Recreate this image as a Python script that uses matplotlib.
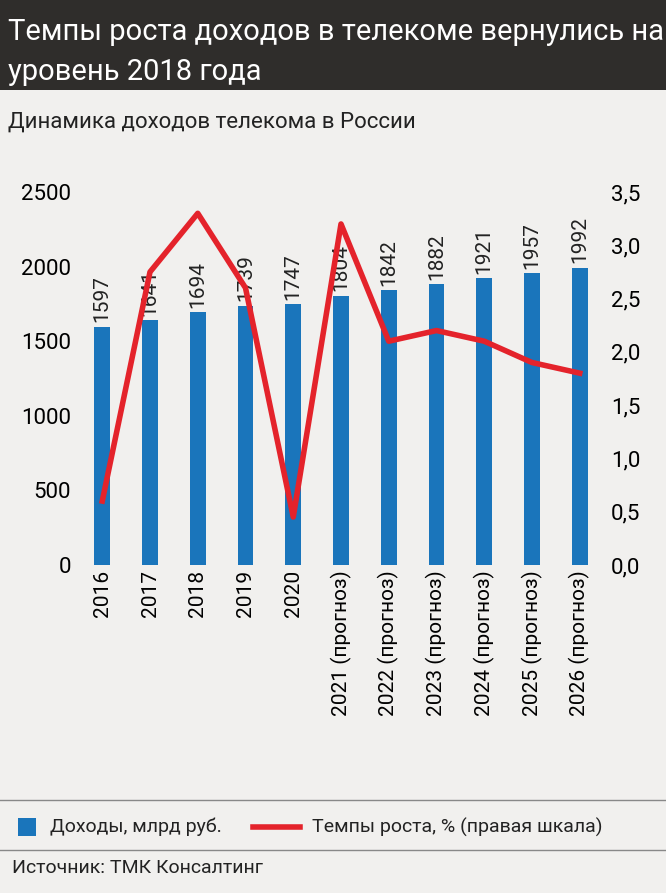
import matplotlib.pyplot as plt
import numpy as np

plt.rcParams['font.family'] = 'Roboto'

years = ['2016', '2017', '2018', '2019', '2020', '2021 (прогноз)', '2022 (прогноз)',
         '2023 (прогноз)', '2024 (прогноз)', '2025 (прогноз)', '2026 (прогноз)']
revenue = [1597, 1641, 1694, 1739, 1747, 1804, 1842, 1882, 1921, 1957, 1992]
growth = [0.6, 2.75, 3.3, 2.6, 0.45, 3.2, 2.1, 2.2, 2.1, 1.9, 1.8]

bg = '#f1f0ee'
fig = plt.figure(figsize=(6.66, 8.93), dpi=100, facecolor=bg)

# title band
fig.patches.append(plt.Rectangle((0, 1 - 90/893), 1, 90/893, transform=fig.transFigure,
                                 facecolor='#2f2d2b', zorder=0))
fig.text(0.012, 1 - 32/893, 'Темпы роста доходов в телекоме вернулись на', color='white',
         fontsize=21, va='center')
fig.text(0.012, 1 - 72/893, 'уровень 2018 года', color='white', fontsize=21, va='center')
fig.text(0.012, 1 - 122/893, 'Динамика доходов телекома в России', color='#222',
         fontsize=16, va='center')

ax = fig.add_axes([76/666, 1 - 565/893, 530/666, 373/893], facecolor=bg)
x = np.arange(len(years))
ax.bar(x, revenue, width=0.33, color='#1a75bb', zorder=2)
for xi, v in zip(x, revenue):
    ax.text(xi, v + 30, str(v), rotation=90, ha='center', va='bottom', fontsize=15, color='#222')
ax.set_ylim(0, 2500)
ax.set_xlim(-0.55, len(years) - 0.45)
ax.set_yticks(range(0, 2501, 500))
ax.set_xticks(x)
ax.set_xticklabels(years, rotation=90, fontsize=15)
ax.tick_params(axis='y', labelsize=16, length=0)
ax.tick_params(axis='x', length=0)
for s in ax.spines.values():
    s.set_visible(False)

ax2 = ax.twinx()
ax2.plot(x, growth, color='#e4232b', lw=4, zorder=3)
ax2.set_ylim(0, 3.5)
ax2.set_yticks(np.arange(0, 3.51, 0.5))
ax2.set_yticklabels([f'{t:.1f}'.replace('.', ',') for t in np.arange(0, 3.51, 0.5)])
ax2.tick_params(axis='y', labelsize=16, length=0)
for s in ax2.spines.values():
    s.set_visible(False)

# legend and source
fig.add_artist(plt.Line2D([0, 1], [1 - 800/893] * 2, color='#888', lw=1))
fig.add_artist(plt.Line2D([0, 1], [1 - 850/893] * 2, color='#888', lw=1))
fig.patches.append(plt.Rectangle((18/666, 1 - 836/893), 18/666, 18/893,
                                 transform=fig.transFigure, facecolor='#1a75bb'))
fig.text(50/666, 1 - 827/893, 'Доходы, млрд руб.', fontsize=14, va='center', color='#222')
fig.add_artist(plt.Line2D([253/666, 300/666], [1 - 827/893] * 2, color='#e4232b', lw=4))
fig.text(312/666, 1 - 827/893, 'Темпы роста, % (правая шкала)', fontsize=14, va='center',
         color='#222')
fig.text(12/666, 1 - 868/893, 'Источник: ТМК Консалтинг', fontsize=14, va='center', color='#222')

fig.savefig('out.png', dpi=100, facecolor=bg)
